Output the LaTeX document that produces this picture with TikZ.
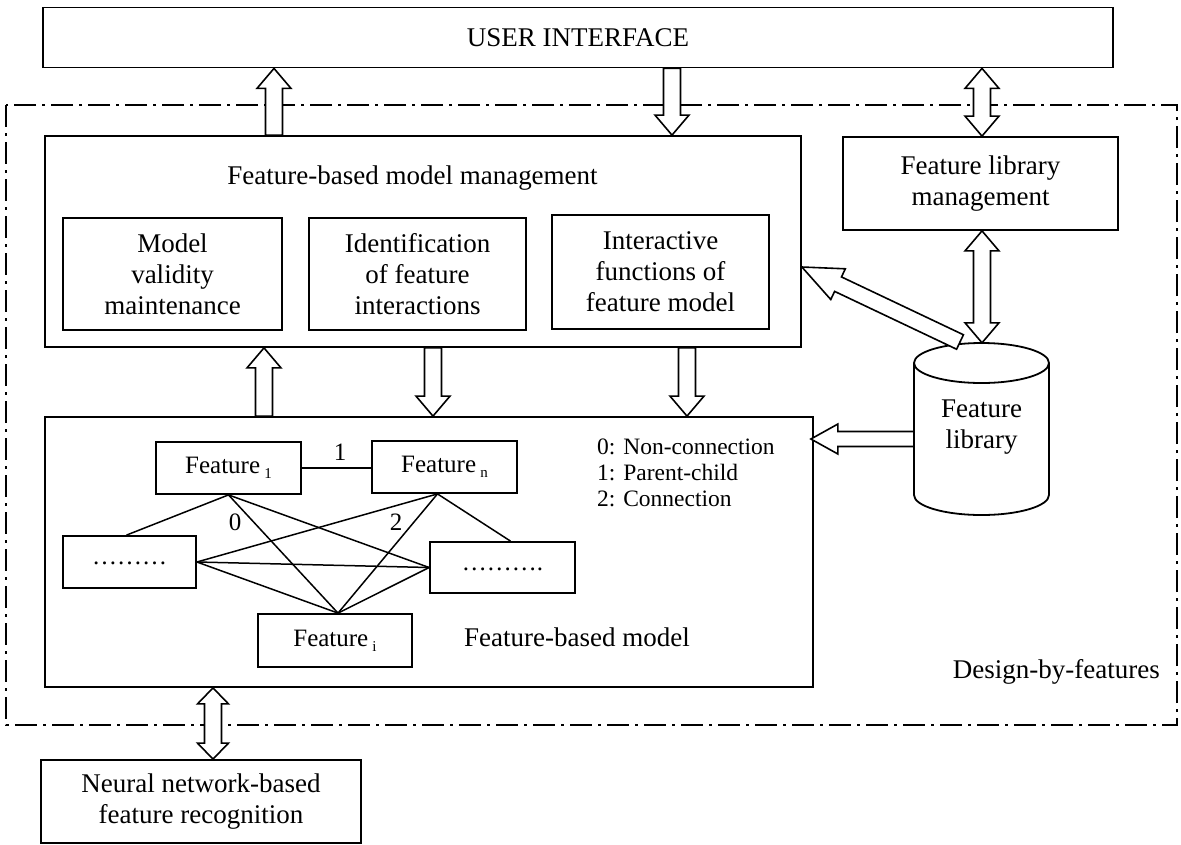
\documentclass[tikz,border=0pt]{standalone}
\usepackage{fontspec}
\setmainfont{Liberation Serif}
\usetikzlibrary{calc}
\newcommand\sbs[1]{\,\raisebox{-5pt}{\fontsize{15}{15}\selectfont #1}}
% single hollow block arrow: #1 start, #2 end, #3 half shaft, #4 half head, #5 head length
\newcommand\blkarrow[5]{%
  \path let \p1=#1, \p2=#2, \n1={atan2(\y2-\y1,\x2-\x1)}, \n2={veclen(\x2-\x1,\y2-\y1)} in \pgfextra{\xdef\BAang{\n1}\xdef\BAlen{\n2}};
  \begin{scope}[shift={#1}, rotate=\BAang]
    \draw[blk] (0,-#3) -- ({\BAlen-#5},-#3) -- ({\BAlen-#5},-#4) -- (\BAlen,0) -- ({\BAlen-#5},#4) -- ({\BAlen-#5},#3) -- (0,#3) -- cycle;
  \end{scope}}
% double hollow block arrow
\newcommand\dblkarrow[5]{%
  \path let \p1=#1, \p2=#2, \n1={atan2(\y2-\y1,\x2-\x1)}, \n2={veclen(\x2-\x1,\y2-\y1)} in \pgfextra{\xdef\BAang{\n1}\xdef\BAlen{\n2}};
  \begin{scope}[shift={#1}, rotate=\BAang]
    \draw[blk] (#5,-#3) -- ({\BAlen-#5},-#3) -- ({\BAlen-#5},-#4) -- (\BAlen,0) -- ({\BAlen-#5},#4) -- ({\BAlen-#5},#3) -- (#5,#3) -- (#5,#4) -- (0,0) -- (#5,-#4) -- cycle;
  \end{scope}}
\begin{document}
\begin{tikzpicture}[x=1pt,y=-1pt, font=\fontsize{27}{31}\selectfont,
  box/.style={draw, line width=1.8pt, inner sep=0pt, align=center},
  blk/.style={draw, line width=1.6pt, fill=white, line join=miter},
  lnk/.style={line width=1.5pt},
  lab/.style={font=\fontsize{25}{29}\selectfont, inner sep=0pt},
  dd/.style={line width=2.4pt, dash pattern=on 22pt off 6pt on 3pt off 6pt}]
\useasboundingbox (0,0) rectangle (1181,844);
\draw[dd] (6,105) rectangle (1177,725);

\node[box, minimum width=1070pt, minimum height=60pt] (ui) at (578,37.5) {USER INTERFACE};

\node[box, minimum width=756pt, minimum height=211pt] (fbmm) at (423,241.5) {};
\node[inner sep=0pt] (fbmmt) at (412.5,178) {Feature-based model management};
\node[box, minimum width=219pt, minimum height=112pt] (mv) at (172.5,274) {Model\\validity\\maintenance};
\node[box, minimum width=217pt, minimum height=112pt] (idf) at (417.5,274) {Identification\\of feature\\interactions};
\node[box, minimum width=217pt, minimum height=114pt] (ifm) at (660.5,272) {Interactive\\functions of\\feature model};

\node[box, minimum width=275pt, minimum height=93pt] (flm) at (980.5,183.5) {Feature library\\management};

% cylinder
\node[minimum width=135pt, minimum height=172pt, inner sep=0pt] (cyl) at (981.5,429) {};
\draw[line width=1.8pt] (914,363) -- (914,495) arc[start angle=180, end angle=360, x radius=67.5pt, y radius=20pt] -- (1049,363);
\draw[line width=1.8pt] (981.5,363) ellipse[x radius=67.5pt, y radius=20pt];
\node[align=center, inner sep=0pt] (cylt) at (981.5,427) {Feature\\library};

\node[box, minimum width=768pt, minimum height=270pt] (fbm) at (429,552) {};
\node[box, minimum width=145pt, minimum height=52pt, lab] (f1) at (228.5,468) {Feature\sbs{1}};
\node[box, minimum width=145pt, minimum height=52pt, lab] (fn) at (444.5,467) {Feature\sbs{n}};
\node[box, minimum width=133pt, minimum height=52pt, lab] (lb) at (129.5,562) {\raisebox{-6pt}{\ldots\ldots\ldots}};
\node[box, minimum width=145pt, minimum height=51pt, lab] (rb) at (502.5,567.5) {\raisebox{-6pt}{\ldots\ldots\ldots.}};
\node[box, minimum width=154pt, minimum height=53pt, lab] (fi) at (335,640.5) {Feature\sbs{i}};

\draw[lnk] (f1.east) -- (fn.west |- f1.east);
\node[lab] (l1) at (340,452) {1};
\draw[lnk] (f1.south) -- ([xshift=-3pt]lb.north);
\draw[lnk] (f1.south) -- ([xshift=3pt]fi.north);
\draw[lnk] (f1.south) -- (rb.west);
\draw[lnk] ([xshift=-7pt]fn.south) -- (lb.east);
\draw[lnk] ([xshift=-7pt]fn.south) -- ([xshift=3pt]fi.north);
\draw[lnk] ([xshift=-7pt]fn.south) -- ([xshift=8pt]rb.north);
\draw[lnk] (lb.east) -- (rb.west);
\draw[lnk] (lb.east) -- ([xshift=3pt]fi.north);
\draw[lnk] (rb.west) -- ([xshift=3pt]fi.north);
\node[lab] (l0) at (235,522) {0};
\node[lab] (l2) at (396,522) {2};

\node[anchor=west, align=left, inner sep=0pt, font=\fontsize{23.5}{26}\selectfont] (leg) at (597,473) {0: Non-connection\\1: Parent-child\\2: Connection};
\node[inner sep=0pt] (fbmt) at (577,637) {Feature-based model};

\node[anchor=east, inner sep=0pt] (dbf) at (1160,672) {Design-by-features};

\node[box, minimum width=320pt, minimum height=83pt] (nn) at (201,801.5) {Neural network-based\\feature recognition};

% block arrows
\blkarrow{(274,0 |- fbmm.north)}{(274,0 |- ui.south)}{8.5}{17}{20}
\blkarrow{(672,0 |- ui.south)}{(672,0 |- fbmm.north)}{8.5}{17}{20}
\dblkarrow{(982,0 |- ui.south)}{(982,0 |- flm.north)}{8.5}{17}{20}
\dblkarrow{(982,0 |- flm.south)}{(982,0 |- cyl.north)}{8.5}{17}{20}
\blkarrow{(960,342)}{(fbmm.east |- 0,267)}{8}{17}{40}
\blkarrow{(cyl.west |- 0,439)}{([xshift=-3pt]fbm.east |- 0,439)}{7.5}{15}{27}
\blkarrow{(433,0 |- fbmm.south)}{(433,0 |- fbm.north)}{8.5}{17}{20}
\blkarrow{(687,0 |- fbmm.south)}{(687,0 |- fbm.north)}{8.5}{17}{20}
\blkarrow{(264,0 |- fbm.north)}{(264,0 |- fbmm.south)}{8.5}{17}{20}
\dblkarrow{(213,0 |- fbm.south)}{(213,0 |- nn.north)}{8.5}{15.5}{16}
\end{tikzpicture}
\end{document}
